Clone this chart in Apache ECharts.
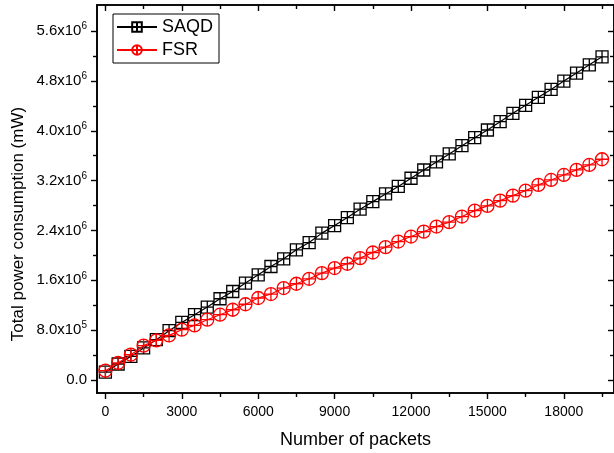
<!DOCTYPE html>
<html>
<head>
<meta charset="utf-8">
<script src="https://cdn.jsdelivr.net/npm/echarts@6/dist/echarts.min.js"></script>
<style>
  html, body { margin: 0; padding: 0; background: #fff; }
  #chart { width: 614px; height: 453px; }
</style>
</head>
<body>
<div id="chart"></div>
<script>
// Number of packets sent (x values)
const packets = [0, 500, 1000, 1500, 2000, 2500, 3000, 3500, 4000, 4500,
  5000, 5500, 6000, 6500, 7000, 7500, 8000, 8500, 9000, 9500,
  10000, 10500, 11000, 11500, 12000, 12500, 13000, 13500, 14000, 14500,
  15000, 15500, 16000, 16500, 17000, 17500, 18000, 18500, 19000, 19500];

// Total power consumption (mW)
const saqd = [1.25e5, 2.56e5, 3.78e5, 5.13e5, 6.46e5, 7.9e5, 9.23e5, 1.047e6, 1.17e6, 1.303e6,
  1.42e6, 1.555e6, 1.688e6, 1.821e6, 1.945e6, 2.089e6, 2.206e6, 2.357e6, 2.479e6, 2.607e6,
  2.741e6, 2.863e6, 2.987e6, 3.107e6, 3.238e6, 3.371e6, 3.5e6, 3.628e6, 3.761e6, 3.889e6,
  4.013e6, 4.146e6, 4.28e6, 4.409e6, 4.537e6, 4.665e6, 4.798e6, 4.927e6, 5.06e6, 5.188e6];

const fsr = [1.49e5, 2.73e5, 4.06e5, 5.5e5, 6.35e5, 7.15e5, 8.06e5, 8.75e5, 9.67e5, 1.047e6,
  1.127e6, 1.215e6, 1.315e6, 1.379e6, 1.475e6, 1.544e6, 1.624e6, 1.715e6, 1.796e6, 1.865e6,
  1.956e6, 2.046e6, 2.132e6, 2.222e6, 2.302e6, 2.382e6, 2.463e6, 2.533e6, 2.623e6, 2.719e6,
  2.794e6, 2.879e6, 2.96e6, 3.04e6, 3.131e6, 3.211e6, 3.291e6, 3.372e6, 3.452e6, 3.543e6];

// Tick positions and labels
const xMajorTicks = [0, 3000, 6000, 9000, 12000, 15000, 18000];
const xMinorTicks = [1500, 4500, 7500, 10500, 13500, 16500, 19500];
const yMajorTicks = [0, 8e5, 1.6e6, 2.4e6, 3.2e6, 4.0e6, 4.8e6, 5.6e6];
const yMinorTicks = [4e5, 1.2e6, 2.0e6, 2.8e6, 3.6e6, 4.4e6, 5.2e6];
const yTickLabels = ['0.0', '8.0x10{sup|5}', '1.6x10{sup|6}', '2.4x10{sup|6}', '3.2x10{sup|6}',
  '4.0x10{sup|6}', '4.8x10{sup|6}', '5.6x10{sup|6}'];

const X_MIN = -330, X_MAX = 19970;
const Y_MIN = -2.1e5, Y_MAX = 6.02e6;

const FONT = '"Liberation Sans", Arial, sans-serif';
const SQUARE_CROSS = 'path://M0,0L10,0L10,10L0,10Z M5,0L5,10 M0,5L10,5';
const CIRCLE_PLUS = 'path://M10,5A5,5,0,1,1,0,5A5,5,0,1,1,10,5Z M5,0L5,10 M0,5L10,5';

function frameAxis(dir, position, ticks, len, inside, labels, extra) {
  return Object.assign({
    type: 'value',
    position: position,
    min: dir === 'x' ? X_MIN : Y_MIN,
    max: dir === 'x' ? X_MAX : Y_MAX,
    axisLine: { show: true, onZero: false, lineStyle: { color: '#000', width: 1.6 } },
    axisTick: { show: true, inside: inside, length: len, customValues: ticks,
      lineStyle: { color: '#000', width: 1.4 } },
    axisLabel: labels || { show: false },
    splitLine: { show: false }
  }, extra || {});
}

const xLabel = {
  show: true, customValues: xMajorTicks, margin: 12,
  color: '#000', fontFamily: FONT, fontSize: 14,
  formatter: function (v) { return String(v); }
};
const yLabel = {
  show: true, customValues: yMajorTicks, margin: 10,
  color: '#000', fontFamily: FONT, fontSize: 15,
  formatter: function (v) {
    const i = yMajorTicks.indexOf(v);
    return i >= 0 ? yTickLabels[i] : '';
  },
  rich: {
    sup: { fontSize: 10, fontFamily: FONT, color: '#000', padding: [0, 0, 9, 0] }
  }
};

const chart = echarts.init(document.getElementById('chart'), null, { renderer: 'canvas' });

chart.setOption({
  backgroundColor: '#fff',
  animation: false,
  grid: { left: 97, right: 0, top: 5, bottom: 60, containLabel: false, outerBoundsMode: 'none' },
  legend: {
    orient: 'vertical',
    left: 113, top: 14,
    borderColor: '#000', borderWidth: 1,
    padding: [4, 6, 4, 3],
    itemGap: 5,
    itemWidth: 40, itemHeight: 12,
    textStyle: { fontFamily: FONT, fontSize: 18, color: '#000' },
    data: ['SAQD', 'FSR']
  },
  graphic: [{
    type: 'text',
    x: 18, y: 224,
    rotation: Math.PI / 2,
    style: {
      text: 'Total power consumption (mW)',
      font: '17px ' + FONT,
      fill: '#000',
      align: 'center',
      verticalAlign: 'middle'
    }
  }],
  xAxis: [
    frameAxis('x', 'bottom', xMajorTicks, 6, false, xLabel, {
      name: 'Number of packets', nameLocation: 'middle', nameGap: 38,
      nameTextStyle: { fontFamily: FONT, fontSize: 18, color: '#000' }
    }),
    frameAxis('x', 'bottom', xMinorTicks, 4, false),
    frameAxis('x', 'top', xMajorTicks, 6, true),
    frameAxis('x', 'top', xMinorTicks, 4, true)
  ],
  yAxis: [
    frameAxis('y', 'left', yMajorTicks, 6, false, yLabel),
    frameAxis('y', 'left', yMinorTicks, 4, false),
    frameAxis('y', 'right', yMajorTicks, 6, true),
    frameAxis('y', 'right', yMinorTicks, 4, true)
  ],
  series: [
    {
      name: 'SAQD', type: 'line', xAxisIndex: 0, yAxisIndex: 0,
      data: packets.map((p, i) => [p, saqd[i]]),
      symbol: SQUARE_CROSS, symbolSize: 12, showAllSymbol: true,
      lineStyle: { color: '#000', width: 1.2 },
      itemStyle: { color: 'rgba(0,0,0,0)', borderColor: '#000', borderWidth: 1.3 },
      z: 3
    },
    {
      name: 'FSR', type: 'line', xAxisIndex: 0, yAxisIndex: 0,
      data: packets.map((p, i) => [p, fsr[i]]),
      symbol: CIRCLE_PLUS, symbolSize: 13, showAllSymbol: true,
      lineStyle: { color: '#ff0000', width: 1.2 },
      itemStyle: { color: 'rgba(0,0,0,0)', borderColor: '#ff0000', borderWidth: 1.3 },
      z: 4
    }
  ]
});
</script>
</body>
</html>
